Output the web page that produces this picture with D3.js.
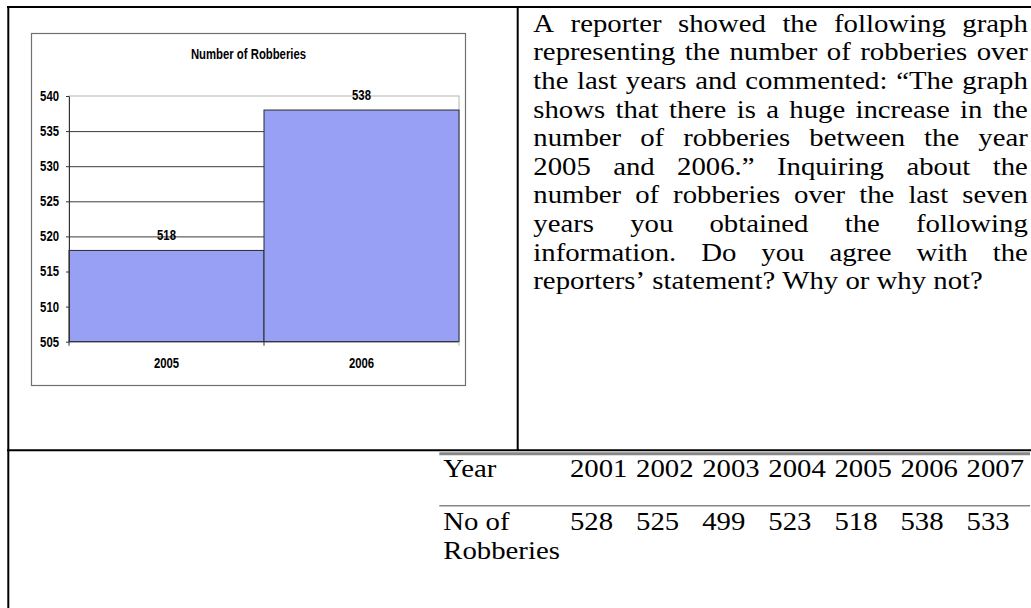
<!DOCTYPE html>
<html>
<head>
<meta charset="utf-8">
<script src="https://cdn.jsdelivr.net/npm/d3@7"></script>
<style>
    body { margin: 0; background: #fff; }
    svg { display: block; }
    .serif { font-family: "Liberation Serif", "Times New Roman", serif; font-size: 25px; fill: #000; }
    .sans { font-family: "Liberation Sans", Arial, sans-serif; font-size: 14px; font-weight: bold; fill: #000; }
</style>
</head>
<body>
<div id="page"></div>
<script>
// small chart (reporter's graph)
const chartYears = ["2005", "2006"];
const chartCounts = [518, 538];
const yTicks = [505, 510, 515, 520, 525, 530, 535, 540];
const chartTitle = "Number of Robberies";

// table of the last seven years
const tableYears = ["2001", "2002", "2003", "2004", "2005", "2006", "2007"];
const tableCounts = [528, 525, 499, 523, 518, 538, 533];
const rowLabels = [["Year"], ["No of", "Robberies"]];

// question text, one entry per printed line
const questionLines = [
    "A reporter showed the following graph",
    "representing the number of robberies over",
    "the last years and commented: \u201cThe graph",
    "shows that there is a huge increase in the",
    "number of robberies between the year",
    "2005 and 2006.\u201d Inquiring about the",
    "number of robberies over the last seven",
    "years you obtained the following",
    "information. Do you agree with the",
    "reporters\u2019 statement? Why or why not?"
];

const width = 1031, height = 608;
const serifScale = 1.15;   // the scan is stretched sideways
const sansScale = 0.81;    // chart lettering is narrow

const svg = d3.select("#page").append("svg")
    .attr("width", width)
    .attr("height", height);

// page frame
const frame = svg.append("g").attr("stroke", "#000").attr("stroke-width", 2);
frame.append("line").attr("x1", 7).attr("x2", width).attr("y1", 7).attr("y2", 7);
frame.append("line").attr("x1", 8.3).attr("x2", 8.3).attr("y1", 6).attr("y2", height);
frame.append("line").attr("x1", 517.7).attr("x2", 517.7).attr("y1", 6).attr("y2", 451);
frame.append("line").attr("x1", 7).attr("x2", width).attr("y1", 450.3).attr("y2", 450.3);

// ---------- chart ----------
const chart = svg.append("g");

chart.append("rect")
    .attr("x", 31.5).attr("y", 33.5)
    .attr("width", 434).attr("height", 352)
    .attr("fill", "#fff")
    .attr("stroke", "#707070")
    .attr("stroke-width", 1.2);

const x = d3.scaleBand()
    .domain(chartYears)
    .range([69, 459])
    .padding(0);

const y = d3.scaleLinear()
    .domain([d3.min(yTicks), d3.max(yTicks)])
    .range([341.7, 96]);

// plot area border
chart.append("rect")
    .attr("x", x.range()[0]).attr("y", y(540))
    .attr("width", x.range()[1] - x.range()[0])
    .attr("height", y(505) - y(540))
    .attr("fill", "none")
    .attr("stroke", "#b4b4b4");

// gridlines
const grid = chart.append("g")
    .attr("transform", `translate(${x.range()[0]},0)`)
    .call(d3.axisLeft(y)
        .tickValues(yTicks.slice(1, -1))
        .tickSize(-(x.range()[1] - x.range()[0]))
        .tickFormat(""));
grid.select(".domain").remove();
grid.selectAll("line").attr("stroke", "#3c3c3c");

// bars
chart.selectAll(".bar")
    .data(chartYears)
    .join("rect")
    .attr("class", "bar")
    .attr("x", d => x(d))
    .attr("y", (d, i) => y(chartCounts[i]))
    .attr("width", x.bandwidth())
    .attr("height", (d, i) => y(505) - y(chartCounts[i]))
    .attr("fill", "#97a0f4")
    .attr("stroke", "#2b2b2b")
    .attr("stroke-width", 1);

// y axis
const yAxis = chart.append("g")
    .attr("transform", `translate(${x.range()[0]},0)`)
    .call(d3.axisLeft(y)
        .tickValues(yTicks)
        .tickSize(3)
        .tickSizeOuter(0)
        .tickPadding(7));
yAxis.select(".domain").attr("stroke", "#333");
yAxis.selectAll("line").attr("stroke", "#333");
yAxis.selectAll("text")
    .attr("class", "sans")
    .attr("font-family", null).attr("font-size", null)
    .attr("x", -10 / sansScale)
    .attr("transform", `scale(${sansScale},1)`);

// x axis: line plus ticks on the category boundaries
const xAxis = chart.append("g").attr("transform", `translate(0,${y(505)})`);
xAxis.append("line")
    .attr("x1", x.range()[0]).attr("x2", x.range()[1])
    .attr("stroke", "#333");
xAxis.selectAll(".edge")
    .data(chartYears.map(d => x(d)).concat([x.range()[1]]))
    .join("line")
    .attr("class", "edge")
    .attr("x1", d => d).attr("x2", d => d)
    .attr("y1", 0).attr("y2", 4)
    .attr("stroke", (d, i) => i === chartYears.length ? "#b4b4b4" : "#333");
xAxis.selectAll(".cat")
    .data(chartYears)
    .join("text")
    .attr("class", "sans")
    .attr("text-anchor", "middle")
    .attr("transform", d => `translate(${x(d) + x.bandwidth() / 2},26.6) scale(${sansScale},1)`)
    .text(d => d);

// value labels
chart.selectAll(".value")
    .data(chartYears)
    .join("text")
    .attr("class", "sans value")
    .attr("text-anchor", "middle")
    .attr("transform", (d, i) => `translate(${x(d) + x.bandwidth() / 2},${y(chartCounts[i]) - 10}) scale(${sansScale},1)`)
    .text((d, i) => chartCounts[i]);

// title
chart.append("text")
    .attr("class", "sans")
    .attr("text-anchor", "middle")
    .attr("transform", `translate(248.5,59) scale(${sansScale},1)`)
    .text(chartTitle);

// ---------- question text (justified) ----------
const paraLeft = 533.3, paraRight = 1027.8, firstBase = 31.8, lineGap = 28.6;
const para = svg.append("g");
questionLines.forEach((line, i) => {
    const g = para.append("g")
        .attr("transform", `translate(${paraLeft},${firstBase + i * lineGap}) scale(${serifScale},1)`);
    const words = line.split(" ");
    const nodes = words.map(w => g.append("text").attr("class", "serif").text(w));
    const widths = nodes.map(n => n.node().getComputedTextLength());
    const avail = (paraRight - paraLeft) / serifScale;
    const isLast = i === questionLines.length - 1;
    const gap = isLast ? 6.25 : (avail - d3.sum(widths)) / (words.length - 1);
    let cx = 0;
    nodes.forEach((n, j) => {
        n.attr("x", cx);
        cx += widths[j] + gap;
    });
});

// ---------- table ----------
const table = svg.append("g");
const rules = [[453.7, 3], [505.8, 1.5]];
table.selectAll(".rule")
    .data(rules)
    .join("line")
    .attr("class", "rule")
    .attr("x1", 439.3).attr("x2", 1030)
    .attr("y1", d => d[0]).attr("y2", d => d[0])
    .attr("stroke", "#878787")
    .attr("stroke-width", d => d[1]);

const col = d3.scaleBand()
    .domain(tableYears)
    .range([570, 570 + 66.1 * tableYears.length]);

const rowBase = [476.7, 530];

rowLabels.forEach((lines, r) => {
    lines.forEach((t, k) => {
        table.append("text")
            .attr("class", "serif")
            .attr("transform", `translate(443.3,${rowBase[r] + k * 29}) scale(${serifScale},1)`)
            .text(t);
    });
});

table.selectAll(".yr")
    .data(tableYears)
    .join("text")
    .attr("class", "serif yr")
    .attr("transform", d => `translate(${col(d)},${rowBase[0]}) scale(${serifScale},1)`)
    .text(d => d);

table.selectAll(".cnt")
    .data(tableYears)
    .join("text")
    .attr("class", "serif cnt")
    .attr("transform", d => `translate(${col(d)},${rowBase[1]}) scale(${serifScale},1)`)
    .text((d, i) => tableCounts[i]);
</script>
</body>
</html>
